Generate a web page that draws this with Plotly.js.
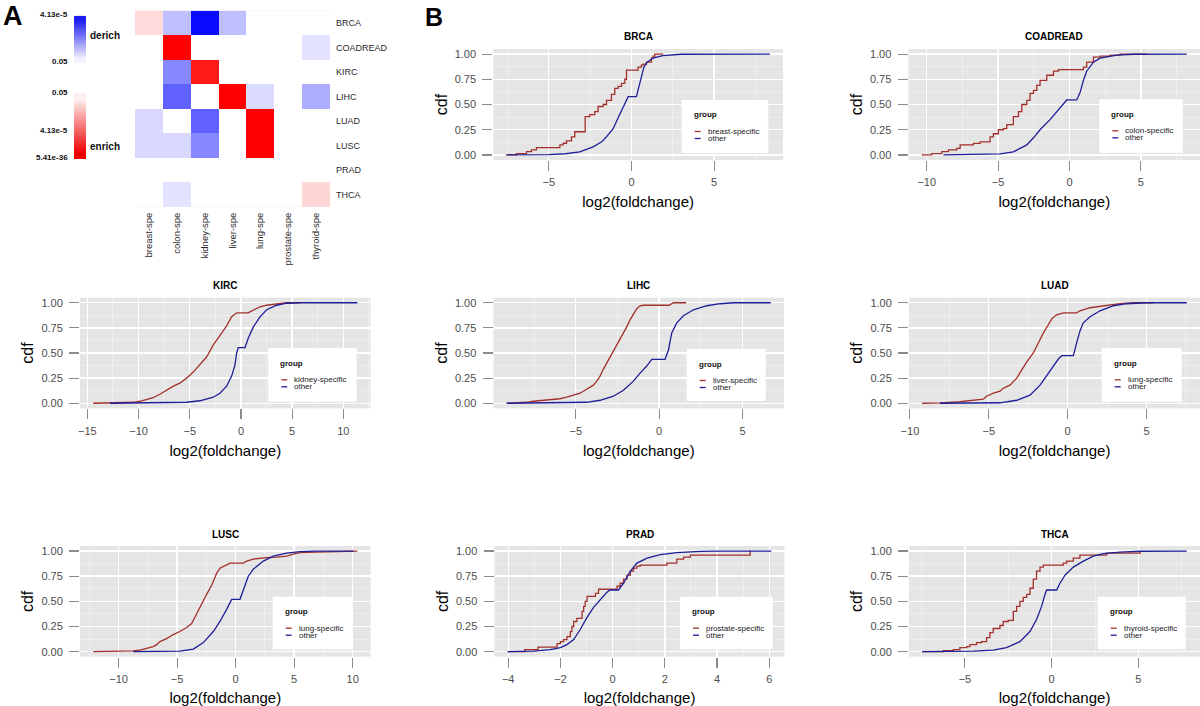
<!DOCTYPE html>
<html>
<head>
<meta charset="utf-8">
<script src="https://cdn.plot.ly/plotly-3.0.1.min.js"></script>
<style>html,body{margin:0;padding:0;background:#fff}#chart{width:1200px;height:706px}</style>
</head>
<body>
<div id="chart"></div>
<script>
// ---------------- DATA ----------------
// Panel A: enrichment heatmap
const heatCols = ['breast-spe','colon-spe','kidney-spe','liver-spe','lung-spe','prostate-spe','thyroid-spe'];
const heatRows = ['BRCA','COADREAD','KIRC','LIHC','LUAD','LUSC','PRAD','THCA'];
// signed intensity: + enrich (red), - derich (blue), 0 not significant
const heatZ = [
  [0.14, -0.25, -0.96, -0.25, 0, 0, 0],
  [0, 1, 0, 0, 0, 0, -0.11],
  [0, -0.47, 0.9, 0, 0, 0, 0],
  [0, -0.62, 0, 1, -0.14, 0, -0.32],
  [-0.15, 0, -0.62, 0, 1, 0, 0],
  [-0.15, -0.15, -0.47, 0, 1, 0, 0],
  [0, 0, 0, 0, 0, 0, 0],
  [0, -0.11, 0, 0, 0, 0, 0.16]
];
const derichLevels = [0, 0.25, 0.5, 0.75, 1];
const enrichLevels = [1, 0.75, 0.5, 0.25, 0];
const derichTicks = ['4.13e-5', '0.05'];
const enrichTicks = ['0.05', '4.13e-5', '5.41e-36'];

// Panel B: cumulative distributions of log2(foldchange)
const panelNames = ['BRCA','COADREAD','KIRC','LIHC','LUAD','LUSC','PRAD','THCA'];
const specificNames = ['breast-specific','colon-specific','kidney-specific','liver-specific','lung-specific','lung-specific','prostate-specific','thyroid-specific'];

const brcaSpecX = [-7.56,-6.96,-6.35,-6.05,-5.75,-4.33,-4.13,-3.93,-3.63,-3.43,-2.80,-2.52,-2.22,-2.02,-1.71,-1.51,-1.21,-1.01,-0.81,-0.60,-0.40,-0.30,0.40,0.60,0.71,0.91,1.21,1.31,1.41,1.92];
const brcaSpecY = [0,0.013,0.033,0.05,0.073,0.1,0.116,0.14,0.18,0.23,0.38,0.40,0.43,0.48,0.5,0.54,0.6,0.66,0.68,0.71,0.75,0.84,0.87,0.89,0.9,0.92,0.96,0.98,1.0,1.0];
const brcaOtherX = [-7.56,-5.0,-4.0,-3.13,-2.32,-1.8,-1.51,-1.11,-0.71,-0.40,-0.2,0.3,0.45,0.6,0.75,0.95,1.3,1.9,3.0,8.37];
const brcaOtherY = [0,0.003,0.012,0.03,0.08,0.13,0.18,0.26,0.40,0.51,0.578,0.578,0.68,0.79,0.87,0.92,0.96,0.985,0.998,1];

const coadSpecX = [-10.35,-9.65,-8.95,-8.48,-7.9,-7.66,-6.73,-6.26,-5.56,-5.33,-4.98,-4.63,-4.39,-3.93,-3.57,-3.34,-2.99,-2.76,-2.52,-2.29,-2.06,-1.59,-1.12,-0.77,0.98,1.21,1.68,2.15,2.85,3.55,5.42];
const coadSpecY = [0,0.013,0.033,0.05,0.066,0.1,0.115,0.13,0.18,0.21,0.25,0.26,0.3,0.38,0.43,0.5,0.54,0.61,0.64,0.69,0.74,0.79,0.83,0.845,0.87,0.92,0.97,0.98,0.99,1.0,1.0];
const coadOtherX = [-8.83,-4.86,-3.93,-2.99,-2.52,-2.06,-1.36,-0.89,-0.42,-0.19,0.51,0.75,0.98,1.21,1.68,2.15,3.32,4.49,8.22];
const coadOtherY = [0,0.01,0.03,0.1,0.17,0.25,0.35,0.43,0.5,0.545,0.545,0.62,0.74,0.83,0.92,0.96,0.99,0.998,1];

const kircSpecX = [-14.43,-12.8,-10.52,-9.87,-9.22,-8.57,-7.92,-7.26,-6.6,-5.96,-5.31,-4.66,-4.01,-3.36,-2.70,-2.05,-1.40,-0.91,-0.6,-0.42,0.7,1.21,1.86,2.51,3.49,4.46,5.77];
const kircSpecY = [0,0.003,0.01,0.02,0.04,0.055,0.09,0.13,0.17,0.2,0.25,0.31,0.38,0.46,0.58,0.67,0.77,0.86,0.89,0.9,0.9,0.93,0.96,0.975,0.99,1.0,1.0];
const kircOtherX = [-12.8,-7.26,-5.31,-4.01,-2.7,-2.05,-1.4,-0.91,-0.59,-0.42,-0.26,0.39,0.72,1.21,1.86,2.51,3.49,4.46,5.77,11.37];
const kircOtherY = [0,0.003,0.01,0.025,0.06,0.1,0.17,0.27,0.38,0.5,0.553,0.553,0.65,0.76,0.86,0.93,0.975,0.995,1.0,1.0];

const lihcSpecX = [-9.14,-8.34,-7.94,-7.54,-6.74,-5.94,-5.54,-5.14,-4.74,-4.34,-3.94,-3.74,-3.54,-3.34,-3.14,-2.74,-2.54,-2.34,-2.14,-1.94,-1.74,-1.54,-1.34,-1.14,-0.94,0.6,0.86,1.62];
const lihcSpecY = [0,0.003,0.01,0.02,0.03,0.045,0.06,0.08,0.1,0.14,0.18,0.22,0.27,0.34,0.40,0.51,0.57,0.63,0.7,0.76,0.83,0.89,0.94,0.97,0.975,0.975,1.0,1.0];
const lihcOtherX = [-9.14,-5.54,-4.34,-3.54,-2.74,-2.14,-1.54,-1.14,-0.74,-0.44,0.36,0.56,0.76,1.06,1.46,2.06,2.86,3.66,4.46,6.7];
const lihcOtherY = [0,0.003,0.01,0.03,0.07,0.13,0.22,0.3,0.37,0.437,0.437,0.53,0.7,0.8,0.87,0.93,0.97,0.99,1.0,1.0];

const luadSpecX = [-9.22,-8.1,-6.83,-5.98,-5.35,-5.14,-4.71,-4.29,-4.08,-3.66,-3.23,-2.92,-2.6,-2.18,-1.86,-1.54,-1.23,-1.01,-0.7,-0.27,0.57,0.78,1.42,2.26,3.32,4.16,5.43];
const luadSpecY = [0,0.003,0.015,0.03,0.04,0.07,0.1,0.12,0.15,0.18,0.25,0.33,0.41,0.5,0.6,0.7,0.78,0.84,0.88,0.9,0.9,0.92,0.95,0.97,0.99,1.0,1.0];
const luadOtherX = [-8.1,-4.29,-3.23,-2.39,-1.75,-1.12,-0.59,-0.38,0.36,0.57,0.78,0.99,1.42,2.05,2.9,3.74,5.01,7.55];
const luadOtherY = [0,0.005,0.03,0.08,0.18,0.32,0.44,0.473,0.473,0.6,0.72,0.8,0.86,0.92,0.97,0.99,1.0,1.0];

const luscSpecX = [-12.17,-10.17,-8.75,-8.18,-7.61,-7.04,-6.75,-6.47,-5.9,-5.33,-4.76,-4.19,-3.76,-3.33,-2.91,-2.48,-2.05,-1.62,-1.34,-0.77,-0.48,0.66,0.94,1.51,2.08,2.65,3.5,4.36,4.93,5.5,6.92,8.35,9.49,10.4];
const luscSpecY = [0,0.003,0.007,0.015,0.03,0.05,0.07,0.1,0.13,0.17,0.2,0.24,0.28,0.38,0.47,0.57,0.66,0.78,0.83,0.86,0.88,0.88,0.9,0.92,0.93,0.935,0.94,0.95,0.97,0.985,0.99,0.995,1.0,1.0];
const luscOtherX = [-8.75,-4.76,-3.62,-2.76,-1.91,-1.34,-0.77,-0.34,0.37,0.66,1.08,1.51,2.36,3.22,4.36,5.5,6.92,10.06];
const luscOtherY = [0,0.005,0.025,0.09,0.2,0.3,0.42,0.52,0.52,0.62,0.75,0.82,0.9,0.95,0.98,0.995,1.0,1.0];

const pradSpecX = [-4.02,-3.37,-2.86,-2.13,-2.0,-1.88,-1.75,-1.62,-1.56,-1.49,-1.37,-1.17,-1.11,-1.05,-0.98,-0.66,-0.54,0.17,0.29,0.42,0.55,0.68,0.80,0.93,1.06,2.08,2.46,2.72,2.98,5.27,5.3];
const pradSpecY = [0,0.02,0.045,0.08,0.1,0.12,0.15,0.2,0.25,0.3,0.33,0.4,0.45,0.5,0.55,0.58,0.62,0.65,0.68,0.72,0.76,0.8,0.83,0.85,0.86,0.88,0.92,0.94,0.96,1.0,1.0];
const pradOtherX = [-4.02,-3.03,-2.39,-2.0,-1.75,-1.49,-1.24,-0.98,-0.73,-0.47,-0.22,-0.09,0.23,0.42,0.68,0.93,1.32,1.83,2.46,3.36,4.0,6.08];
const pradOtherY = [0,0.005,0.02,0.04,0.07,0.12,0.22,0.34,0.44,0.52,0.59,0.613,0.613,0.68,0.8,0.88,0.93,0.965,0.985,0.997,1.0,1.0];

const thcaSpecX = [-7.46,-6.25,-5.67,-5.29,-4.9,-4.71,-4.33,-4.04,-3.75,-3.56,-3.37,-2.98,-2.79,-2.5,-2.21,-2.02,-1.83,-1.63,-1.44,-1.25,-1.06,-0.87,-0.67,-0.48,0.67,0.87,1.25,1.63,3.17,5.1];
const thcaSpecY = [0,0.01,0.02,0.04,0.05,0.07,0.09,0.1,0.14,0.19,0.23,0.26,0.3,0.31,0.4,0.45,0.5,0.54,0.57,0.63,0.72,0.8,0.84,0.86,0.88,0.9,0.93,0.96,0.98,1.0];
const thcaOtherX = [-7.46,-4.52,-3.37,-2.6,-1.83,-1.25,-0.87,-0.58,-0.38,-0.29,0.29,0.48,0.77,1.25,1.83,2.4,2.98,3.94,5.1,7.79];
const thcaOtherY = [0,0.005,0.015,0.04,0.1,0.2,0.32,0.45,0.57,0.613,0.613,0.68,0.76,0.84,0.9,0.95,0.975,0.99,0.998,1.0];

// ---------------- LAYOUT HELPERS ----------------
const W = 1200, H = 706;
const P = x => x / W;
const Q = y => 1 - y / H;
const FONT = 'Liberation Sans, Arial, Helvetica, sans-serif';
const RED = '#A3302C', BLUE = '#1E1E98';

const panelData = [
  {sx: brcaSpecX, sy: brcaSpecY, ox: brcaOtherX, oy: brcaOtherY, shape: 'hv', dtick: 5},
  {sx: coadSpecX, sy: coadSpecY, ox: coadOtherX, oy: coadOtherY, shape: 'hv', dtick: 5},
  {sx: kircSpecX, sy: kircSpecY, ox: kircOtherX, oy: kircOtherY, shape: 'linear', dtick: 5},
  {sx: lihcSpecX, sy: lihcSpecY, ox: lihcOtherX, oy: lihcOtherY, shape: 'linear', dtick: 5},
  {sx: luadSpecX, sy: luadSpecY, ox: luadOtherX, oy: luadOtherY, shape: 'linear', dtick: 5},
  {sx: luscSpecX, sy: luscSpecY, ox: luscOtherX, oy: luscOtherY, shape: 'linear', dtick: 5},
  {sx: pradSpecX, sy: pradSpecY, ox: pradOtherX, oy: pradOtherY, shape: 'hv', dtick: 2},
  {sx: thcaSpecX, sy: thcaSpecY, ox: thcaOtherX, oy: thcaOtherY, shape: 'hv', dtick: 5}
];
// plot-area boxes in pixels [x0, x1, y0(top), y1(bottom)]
const panelBoxes = [
  [493.3, 783, 49, 160],
  [908.5, 1200, 49, 160],
  [80, 370.6, 297.7, 408.3],
  [493.5, 784, 297.7, 408.3],
  [909, 1200, 297.7, 408.3],
  [80, 370.6, 546, 656.7],
  [494.5, 784.5, 546, 656.7],
  [909, 1200, 546, 656.7]
];
const legendBoxes = [
  [681.7, 768.3, 100, 153],
  [1099.3, 1182.7, 99.3, 152.7],
  [268.3, 356.7, 348.3, 401.7],
  [686.7, 765.7, 349, 401],
  [1101.7, 1181.7, 348.3, 401.7],
  [272.7, 352.3, 596.7, 649.3],
  [680, 772.7, 596.7, 649.3],
  [1097.7, 1185.7, 596.7, 649.3]
];

const traces = [];
const shapes = [];
const annotations = [];
const layout = {
  width: W, height: H,
  margin: {l: 0, r: 0, t: 0, b: 0},
  paper_bgcolor: '#FFFFFF',
  plot_bgcolor: '#E5E5E5',
  showlegend: false,
  font: {family: FONT, color: '#222'}
};

// ---- Panel A heatmap ----
traces.push({
  type: 'heatmap', x: heatCols, y: heatRows, z: heatZ,
  colorscale: [[0, '#0000FF'], [0.5, '#FFFFFF'], [1, '#FF0000']],
  zmin: -1, zmax: 1, showscale: false, hoverinfo: 'skip',
  xaxis: 'x', yaxis: 'y'
});
layout.xaxis = {domain: [P(135), P(330)], anchor: 'y', type: 'category', tickangle: -90,
  ticks: '', showgrid: false, zeroline: false, showline: false,
  tickfont: {size: 9.5, color: '#2A2A2A'}, ticklabelstandoff: 3};
layout.yaxis = {domain: [Q(206.7), Q(10.7)], anchor: 'x', type: 'category', autorange: 'reversed',
  side: 'right', ticks: '', showgrid: false, zeroline: false, showline: false,
  tickfont: {size: 9, color: '#2A2A2A'}, ticklabelstandoff: 5};

// gradient key bars
traces.push({
  type: 'heatmap', z: derichLevels.map(v => [v, v]), zsmooth: 'best',
  colorscale: [[0, '#F3F3FF'], [1, '#1E1EF0']], zmin: 0, zmax: 1,
  showscale: false, hoverinfo: 'skip', xaxis: 'x2', yaxis: 'y2'
});
traces.push({
  type: 'heatmap', z: enrichLevels.map(v => [v, v]), zsmooth: 'best',
  colorscale: [[0, '#FDEEEE'], [1, '#F00000']], zmin: 0, zmax: 1,
  showscale: false, hoverinfo: 'skip', xaxis: 'x3', yaxis: 'y3'
});
layout.xaxis2 = {domain: [P(74), P(86)], anchor: 'y2', visible: false};
layout.yaxis2 = {domain: [Q(63), Q(15.7)], anchor: 'x2', visible: false};
layout.xaxis3 = {domain: [P(74), P(86)], anchor: 'y3', visible: false};
layout.yaxis3 = {domain: [Q(159), Q(93)], anchor: 'x3', visible: false};

const keyFont = {family: FONT, size: 8, color: '#111'};
const keyLabelY = [[15, 61], [93, 130, 157]];
derichTicks.forEach((t, i) => annotations.push({xref: 'paper', yref: 'paper', x: P(70), y: Q(keyLabelY[0][i]),
  xanchor: 'right', yanchor: 'middle', text: '<b>' + t + '</b>', showarrow: false, font: keyFont}));
enrichTicks.forEach((t, i) => annotations.push({xref: 'paper', yref: 'paper', x: P(70), y: Q(keyLabelY[1][i]),
  xanchor: 'right', yanchor: 'middle', text: '<b>' + t + '</b>', showarrow: false, font: keyFont}));
annotations.push({xref: 'paper', yref: 'paper', x: P(88), y: Q(35), xanchor: 'left', yanchor: 'middle',
  text: '<b>derich</b>', showarrow: false, font: {family: FONT, size: 10, color: '#111'}});
annotations.push({xref: 'paper', yref: 'paper', x: P(88), y: Q(146), xanchor: 'left', yanchor: 'middle',
  text: '<b>enrich</b>', showarrow: false, font: {family: FONT, size: 10, color: '#111'}});

// panel letters
annotations.push({xref: 'paper', yref: 'paper', x: P(2), y: Q(0), xanchor: 'left', yanchor: 'top', borderpad: 0,
  text: '<b>A</b>', showarrow: false, font: {family: FONT, size: 27, color: '#000'}});
annotations.push({xref: 'paper', yref: 'paper', x: P(424), y: Q(2), xanchor: 'left', yanchor: 'top', borderpad: 0,
  text: '<b>B</b>', showarrow: false, font: {family: FONT, size: 25, color: '#000'}});

// ---- Panel B: ECDF panels ----
panelNames.forEach((name, i) => {
  const n = i + 4;
  const d = panelData[i];
  const b = panelBoxes[i];
  const lg = legendBoxes[i];
  const allX = d.sx.concat(d.ox);
  const lo = Math.min(...allX), hi = Math.max(...allX);
  const pad = 0.05 * (hi - lo);

  traces.push({type: 'scatter', mode: 'lines', x: d.sx, y: d.sy, name: specificNames[i],
    line: {color: RED, width: 1.3, shape: d.shape}, xaxis: 'x' + n, yaxis: 'y' + n, hoverinfo: 'skip'});
  traces.push({type: 'scatter', mode: 'lines', x: d.ox, y: d.oy, name: 'other',
    line: {color: BLUE, width: 1.3, shape: 'linear'}, xaxis: 'x' + n, yaxis: 'y' + n, hoverinfo: 'skip'});

  layout['xaxis' + n] = {
    domain: [P(b[0]), P(b[1])], anchor: 'y' + n, range: [lo - pad, hi + pad],
    tick0: 0, dtick: d.dtick, showgrid: true, gridcolor: '#FFFFFF', gridwidth: 1.4,
    minor: {tick0: 0, dtick: d.dtick / 2, showgrid: true, gridcolor: '#F2F2F2', gridwidth: 0.7},
    zeroline: false, showline: false, ticks: 'outside', ticklen: 10, tickwidth: 1.1, tickcolor: '#8C8C8C',
    tickfont: {family: FONT, size: 11, color: '#4D4D4D'}, ticklabelstandoff: 2,
    title: {text: 'log2(foldchange)', font: {family: FONT, size: 15, color: '#000'}, standoff: 9}
  };
  layout['yaxis' + n] = {
    domain: [Q(b[3]), Q(b[2])], anchor: 'x' + n, range: [-0.05, 1.05],
    tick0: 0, dtick: 0.25, tickformat: '.2f', showgrid: true, gridcolor: '#FFFFFF', gridwidth: 1.4,
    minor: {tick0: 0, dtick: 0.125, showgrid: true, gridcolor: '#F2F2F2', gridwidth: 0.7},
    zeroline: false, showline: false, ticks: 'outside', ticklen: 10, tickwidth: 1.1, tickcolor: '#8C8C8C',
    tickfont: {family: FONT, size: 11, color: '#4D4D4D'}, ticklabelstandoff: 4,
    title: {text: 'cdf', font: {family: FONT, size: 16, color: '#000'}, standoff: 3}
  };

  // panel title
  annotations.push({xref: 'paper', yref: 'paper', x: P((b[0] + b[1]) / 2), y: Q(b[2] - 12),
    xanchor: 'center', yanchor: 'middle', text: '<b>' + name + '</b>', showarrow: false,
    font: {family: FONT, size: 10, color: '#000'}});

  // legend box
  shapes.push({type: 'rect', xref: 'paper', yref: 'paper', x0: P(lg[0]), x1: P(lg[1]), y0: Q(lg[3]), y1: Q(lg[2]),
    fillcolor: '#FFFFFF', line: {width: 0}, layer: 'above'});
  annotations.push({xref: 'paper', yref: 'paper', x: P(lg[0] + 10), y: Q(lg[2] + 15), xanchor: 'left', yanchor: 'middle',
    text: '<b>group</b>', showarrow: false, font: {family: FONT, size: 8, color: '#111'}});
  [[specificNames[i], RED, 31.5], ['other', BLUE, 38.5]].forEach(([txt, col, dy]) => {
    shapes.push({type: 'line', xref: 'paper', yref: 'paper', x0: P(lg[0] + 13), x1: P(lg[0] + 19),
      y0: Q(lg[2] + dy), y1: Q(lg[2] + dy), line: {color: col, width: 1.3}, layer: 'above'});
    annotations.push({xref: 'paper', yref: 'paper', x: P(lg[0] + 24), y: Q(lg[2] + dy), xanchor: 'left', yanchor: 'middle',
      text: txt, showarrow: false, font: {family: FONT, size: 8, color: '#222'}});
  });
});

layout.shapes = shapes;
layout.annotations = annotations;

Plotly.newPlot('chart', traces, layout, {displayModeBar: false, staticPlot: true});
</script>
</body>
</html>
